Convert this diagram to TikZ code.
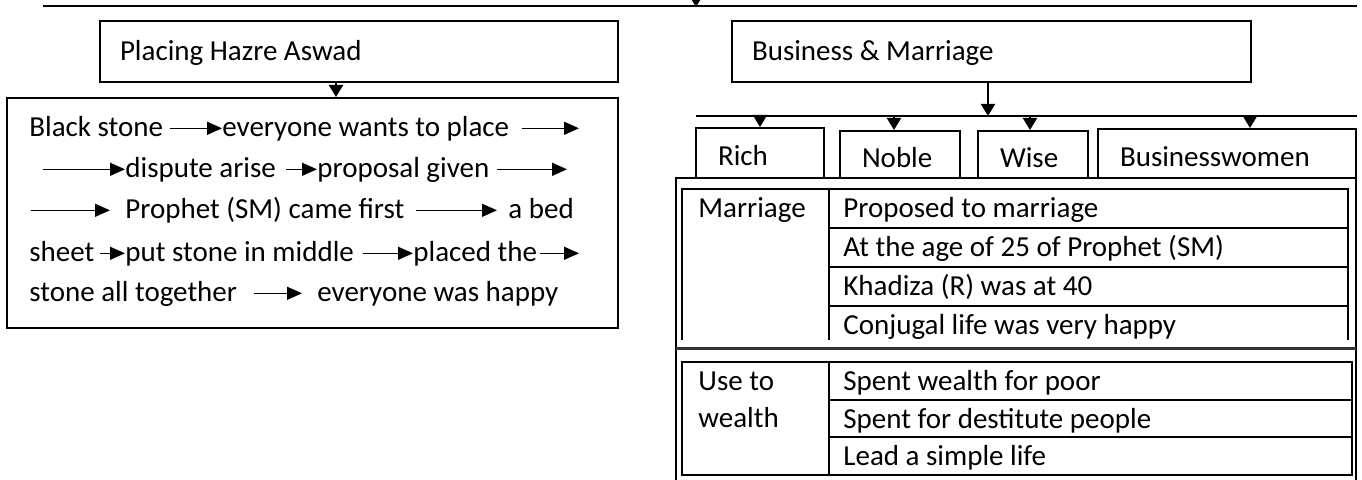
\documentclass[tikz,border=0pt]{standalone}
\usepackage{fontspec}
\setmainfont{Carlito}
\usetikzlibrary{arrows.meta}
\tikzset{
  lbl/.style={font=\fontsize{14.5pt}{17pt}\selectfont, inner sep=0pt},
  txt/.style={lbl, anchor=base west, text height=11.6pt, text depth=2.9pt},
  catbox/.style={draw, line width=1pt, lbl, inner xsep=11pt, inner ysep=0pt, text height=13pt, text depth=0pt},
  tri/.style={line width=1pt, -{Triangle[width=7pt,length=6pt]}},
  inarr/.style={line width=0.7pt, -{Triangle[width=6.5pt,length=7.5pt]}},
}
\begin{document}
\begin{tikzpicture}[x=0.5pt,y=-0.5pt]
\useasboundingbox (0,0) rectangle (1362,480);
\fill[white] (0,0) rectangle (1362,480);
\clip (0,0) rectangle (1362,480);
% top bus
\coordinate (topL) at (43,6);
\coordinate (topR) at (1357,6);
\coordinate (topin) at (696,-20);
\coordinate (topj) at (696,7);
\draw[line width=1pt] (topL) -- (topR);
\draw[tri] (topin) -- (topj);
% left branch
\node[catbox, inner xsep=10pt, minimum height=30.5pt, text height=9pt] (placing) at (359,51.5) {\makebox[239pt][l]{Placing Hazre Aswad}};
\node[draw, line width=1pt, minimum width=305.5pt, minimum height=115pt, inner sep=0pt] (story) at (312.5,213) {};
\coordinate (pj) at (336,0);
\draw[tri] (placing.south -| pj) -- (story.north -| pj);
\node[txt] (t11) at (29,137) {Black stone};
\node[txt] (t12) at (222,137) {everyone wants to place};
\coordinate (e1) at (579,128.3);
\coordinate (s2) at (43,169.3);
\node[txt] (t21) at (125,178) {dispute arise};
\node[txt] (t22) at (317,178) {proposal given};
\coordinate (e2) at (567,169.3);
\coordinate (s3) at (31,210.3);
\node[txt] (t31) at (125,219) {Prophet (SM) came first};
\node[txt] (t32) at (508,219) {a bed};
\node[txt] (t41) at (29,262) {sheet};
\node[txt] (t42) at (125,262) {put stone in middle};
\node[txt] (t43) at (413,262) {placed the};
\coordinate (e4) at (579,253.3);
\node[txt] (t51) at (29,302) {stone all together};
\node[txt] (t52) at (317,302) {everyone was happy};
\draw[inarr, shorten <=3pt] (t11) -- (t12);
\draw[inarr, shorten <=6pt] (t12) -- (e1);
\draw[inarr] (s2) -- (t21);
\draw[inarr, shorten <=5pt] (t21) -- (t22);
\draw[inarr, shorten <=3.5pt] (t22) -- (e2);
\draw[inarr, shorten >=7.5pt] (s3) -- (t31);
\draw[inarr, shorten <=5.5pt, shorten >=5.5pt] (t31) -- (t32);
\draw[inarr, shorten <=2.5pt] (t41) -- (t42);
\draw[inarr, shorten <=4.5pt] (t42) -- (t43);
\draw[inarr, shorten <=1.5pt] (t43) -- (e4);
\draw[inarr, shorten <=8.5pt, shorten >=7.5pt] (t51) -- (t52);
% right branch
\node[catbox, inner xsep=10pt, minimum height=30.5pt, text height=9pt] (biz) at (991.5,51.5) {\makebox[239.5pt][l]{Business \& Marriage}};
\coordinate (subL) at (696,116);
\coordinate (subR) at (1357,116);
\coordinate (bizj) at (988,116);
\draw[line width=1pt] (subL) -- (subR);
\draw[tri] (biz.south -| bizj) -- (bizj);
\node[catbox, minimum height=25pt] (rich) at (760,153) {\makebox[42pt][l]{Rich}};
\node[catbox, minimum height=23.5pt] (noble) at (900,154.5) {\makebox[38pt][l]{Noble}};
\node[catbox, minimum height=23.5pt] (wise) at (1033,154.5) {\makebox[33pt][l]{Wise}};
\node[catbox, minimum height=24.5pt] (bw) at (1227,153.5) {\makebox[107pt][l]{Businesswomen}};
\draw[tri] (rich.north |- subL) -- (rich.north);
\draw[tri] ([xshift=-3pt]noble.north |- subL) -- ([xshift=-3pt]noble.north);
\draw[tri] ([xshift=-1.5pt]wise.north |- subL) -- ([xshift=-1.5pt]wise.north);
\draw[tri] ([xshift=11.5pt]bw.north |- subL) -- ([xshift=11.5pt]bw.north);
% outer frame
\draw[line width=1pt] (676,490) -- (676,178) -- (1356,178) -- (1356,490);
\draw[line width=1.5pt, black!80] (676,349) -- (1356,349);
% marriage table
\draw[line width=1pt] (682,340) -- (682,189) -- (1348,189) -- (1348,340);
\draw[line width=1pt] (829,189) -- (829,340);
\foreach \y in {228,267,306} \draw[line width=1pt] (829,\y) -- (1348,\y);
\node[txt] (mar) at (698,218) {Marriage};
\node[txt] (m1) at (843,218) {Proposed to marriage};
\node[txt] (m2) at (843,257) {At the age of 25 of Prophet (SM)};
\node[txt] (m3) at (843,296) {Khadiza (R) was at 40};
\node[txt] (m4) at (843,335) {Conjugal life was very happy};
% wealth table
\draw[line width=1pt] (682,362) rectangle (1352,475);
\draw[line width=1pt] (829,362) -- (829,475);
\foreach \y in {400,437} \draw[line width=1pt] (829,\y) -- (1352,\y);
\node[txt] (use) at (698,391) {Use to};
\node[txt] (wea) at (698,428) {wealth};
\node[txt] (w1) at (843,391) {Spent wealth for poor};
\node[txt] (w2) at (843,429) {Spent for destitute people};
\node[txt] (w3) at (843,466) {Lead a simple life};
\end{tikzpicture}
\end{document}
